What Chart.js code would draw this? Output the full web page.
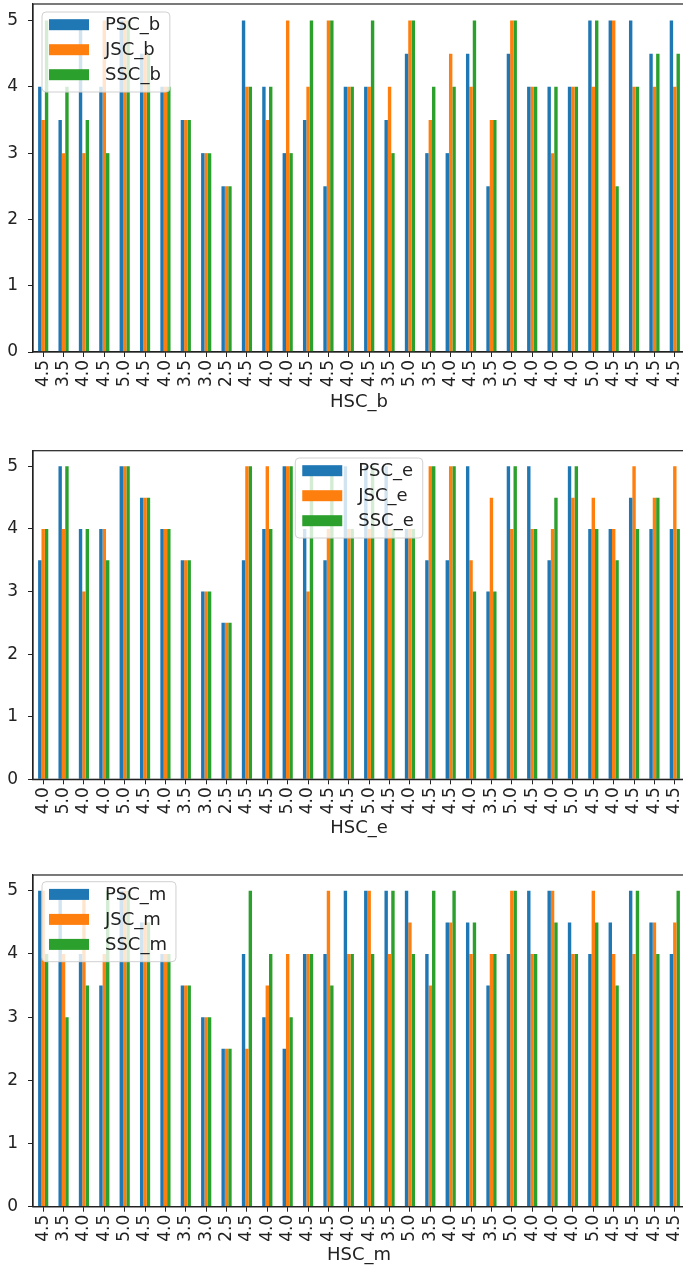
<!DOCTYPE html>
<html>
<head>
<meta charset="utf-8">
<script src="https://cdn.jsdelivr.net/npm/chart.js@4.4.0/dist/chart.umd.min.js"></script>
<style>
    html, body { margin: 0; padding: 0; background: #fff; overflow: hidden; }
    #wrap { position: relative; width: 683px; height: 1270px; overflow: hidden; }
    canvas { position: absolute; left: 0; }
</style>
</head>
<body>
<div id="wrap">
    <canvas id="chartB" width="690" height="420" style="top:0px"></canvas>
    <canvas id="chartE" width="690" height="425" style="top:420px"></canvas>
    <canvas id="chartM" width="690" height="425" style="top:845px"></canvas>
</div>
<script>
// x tick labels (HSC values)
const hscB = ['4.5','3.5','4.0','4.5','5.0','4.5','4.0','3.5','3.0','2.5','4.5','4.0','4.0','4.5','4.5','4.0','4.5','3.5','5.0','3.5','4.0','4.5','3.5','5.0','4.0','4.0','4.0','5.0','4.5','4.5','4.5','4.5'];
const hscE = ['4.0','5.0','4.0','4.0','5.0','4.5','4.0','3.5','3.0','2.5','4.5','4.5','5.0','4.0','4.5','4.5','5.0','4.5','4.0','4.5','4.5','4.0','3.5','5.0','4.5','4.0','5.0','4.5','4.0','4.5','4.5','4.5'];
const hscM = ['4.5','3.5','4.0','4.5','5.0','4.5','4.0','3.5','3.0','2.5','4.5','4.0','4.0','4.5','4.5','4.0','4.5','3.5','5.0','3.5','4.0','4.5','3.5','5.0','4.0','4.0','4.0','5.0','4.5','4.5','4.5','4.5'];

// series values
const pscB = [4, 3.5, 5, 4, 5, 4.5, 4, 3.5, 3, 2.5, 5, 4, 3, 3.5, 2.5, 4, 4, 3.5, 4.5, 3, 3, 4.5, 2.5, 4.5, 4, 4, 4, 5, 5, 5, 4.5, 5];
const jscB = [3.5, 3, 3, 5, 5, 4.5, 4, 3.5, 3, 2.5, 4, 3.5, 5, 4, 5, 4, 4, 4, 5, 3.5, 4.5, 4, 3.5, 5, 4, 3, 4, 4, 5, 4, 4, 4];
const sscB = [5, 4, 3.5, 3, 5, 4.5, 4, 3.5, 3, 2.5, 4, 4, 3, 5, 5, 4, 5, 3, 5, 4, 4, 5, 3.5, 5, 4, 4, 4, 5, 2.5, 4, 4.5, 4.5];

const pscE = [3.5, 5, 4, 4, 5, 4.5, 4, 3.5, 3, 2.5, 3.5, 4, 5, 4, 3.5, 5, 5, 5, 4, 3.5, 3.5, 5, 3, 5, 5, 3.5, 5, 4, 4, 4.5, 4, 4];
const jscE = [4, 4, 3, 4, 5, 4.5, 4, 3.5, 3, 2.5, 5, 5, 5, 3, 4, 4, 4, 4, 4, 5, 5, 3.5, 4.5, 4, 4, 4, 4.5, 4.5, 4, 5, 4.5, 5];
const sscE = [4, 5, 4, 3.5, 5, 4.5, 4, 3.5, 3, 2.5, 5, 4, 5, 5, 5, 4, 5, 4, 4, 5, 5, 3, 3, 5, 4, 4.5, 5, 4, 3.5, 4, 4.5, 4];

const pscM = [5, 5, 4, 3.5, 5, 4.5, 4, 3.5, 3, 2.5, 4, 3, 2.5, 4, 4, 5, 5, 5, 5, 4, 4.5, 4.5, 3.5, 4, 5, 5, 4.5, 4, 4.5, 5, 4.5, 4];
const jscM = [5, 4, 5, 4, 5, 4.5, 4, 3.5, 3, 2.5, 2.5, 3.5, 4, 4, 5, 4, 5, 4, 4.5, 3.5, 4.5, 4, 4, 5, 4, 5, 4, 5, 4, 4, 4.5, 4.5];
const sscM = [4, 3, 3.5, 5, 5, 4.5, 4, 3.5, 3, 2.5, 5, 4, 3, 4, 3.5, 4, 4, 5, 4, 5, 5, 4.5, 4, 5, 4, 4.5, 4, 4.5, 3.5, 5, 4, 5];

// y ticks
const yTicks = [0, 1, 2, 3, 4, 5];

const colors = ['#1f77b4', '#ff7f0e', '#2ca02c'];
const FONT = "'DejaVu Sans', sans-serif";

/*----------------------------------------------------------------*/
// matplotlib-like legend box + full frame around the plot
const boxLegend = {
    id: 'boxLegend',
    afterDatasetsDraw(chart, args, opts) {
        const { ctx, chartArea } = chart;
        ctx.save();
        ctx.font = '18px ' + FONT;
        let textW = 0;
        chart.data.datasets.forEach(ds => { textW = Math.max(textW, ctx.measureText(ds.label).width); });
        const w = 7 + 40 + 16 + textW + 9;
        const h = 80;
        let x = chartArea.left + opts.left;
        if (opts.align === 'center') x = (chartArea.left + chartArea.right) / 2 - w / 2;
        const y = chartArea.top + opts.top;

        ctx.beginPath();
        ctx.roundRect(x, y, w, h, 4);
        ctx.fillStyle = 'rgba(255,255,255,0.8)';
        ctx.fill();
        ctx.strokeStyle = '#d0d0d0';
        ctx.lineWidth = 1;
        ctx.stroke();

        chart.data.datasets.forEach((ds, i) => {
            const ry = y + 12.7 + i * 25;
            ctx.fillStyle = ds.backgroundColor;
            ctx.fillRect(x + 7, ry - 5.5, 40, 11);
            ctx.fillStyle = '#222';
            ctx.textAlign = 'left';
            ctx.textBaseline = 'middle';
            ctx.fillText(ds.label, x + 63, ry + 1);
        });
        ctx.restore();
    },
    afterDraw(chart) {
        const { ctx, chartArea } = chart;
        ctx.save();
        ctx.strokeStyle = '#222';
        ctx.lineWidth = 1.2;
        ctx.strokeRect(chartArea.left, chartArea.top, chartArea.right - chartArea.left, chartArea.bottom - chartArea.top);
        ctx.restore();
    }
};

function makeChart(id, labels, series, names, title, padTop, xHeight, titlePad, legendOpts) {
    return new Chart(document.getElementById(id), {
        type: 'bar',
        data: {
            labels: labels,
            datasets: series.map((d, i) => ({
                label: names[i],
                data: d,
                backgroundColor: colors[i],
                borderWidth: 0,
                categoryPercentage: 0.5,
                barPercentage: 1.0
            }))
        },
        options: {
            responsive: false,
            animation: false,
            devicePixelRatio: 1,
            layout: { padding: { top: padTop, left: 0, right: 5, bottom: 0 } },
            plugins: {
                legend: { display: false },
                tooltip: { enabled: false },
                boxLegend: legendOpts
            },
            scales: {
                x: {
                    grid: { display: true, drawOnChartArea: false, offset: false, tickLength: 5, color: '#222' },
                    border: { display: true, color: '#222', width: 1.2 },
                    ticks: {
                        autoSkip: false,
                        minRotation: 90,
                        maxRotation: 90,
                        padding: 3,
                        color: '#222',
                        font: { family: FONT, size: 17 }
                    },
                    title: {
                        display: true,
                        text: title,
                        color: '#222',
                        font: { family: FONT, size: 18 },
                        padding: { top: 0, bottom: titlePad }
                    },
                    afterFit(scale) {
                        scale.height = xHeight;
                        scale.paddingLeft = 0;
                        scale.paddingRight = 0;
                    }
                },
                y: {
                    min: 0,
                    max: 5.25,
                    grid: { display: true, drawOnChartArea: false, tickLength: 5, color: '#222' },
                    border: { display: true, color: '#222', width: 1.2 },
                    ticks: {
                        padding: 10,
                        color: '#222',
                        font: { family: FONT, size: 17 }
                    },
                    afterBuildTicks(scale) {
                        scale.ticks = yTicks.map(v => ({ value: v }));
                    },
                    afterFit(scale) {
                        scale.width = 33;
                        scale.paddingTop = 0;
                        scale.paddingBottom = 0;
                    }
                }
            }
        },
        plugins: [boxLegend]
    });
}

/*----------------------------------------------------------------*/
const chartB = makeChart('chartB', hscB, [pscB, jscB, sscB], ['PSC_b', 'JSC_b', 'SSC_b'], 'HSC_b',
    4, 68, 7, { align: 'left', left: 9, top: 8 });

/*----------------------------------------------------------------*/
const chartE = makeChart('chartE', hscE, [pscE, jscE, sscE], ['PSC_e', 'JSC_e', 'SSC_e'], 'HSC_e',
    30.7, 65.7, 6, { align: 'center', left: 0, top: 7.3 });

/*----------------------------------------------------------------*/
const chartM = makeChart('chartM', hscM, [pscM, jscM, sscM], ['PSC_m', 'JSC_m', 'SSC_m'], 'HSC_m',
    30, 63.3, 3.5, { align: 'left', left: 9, top: 6.7 });
</script>
</body>
</html>
